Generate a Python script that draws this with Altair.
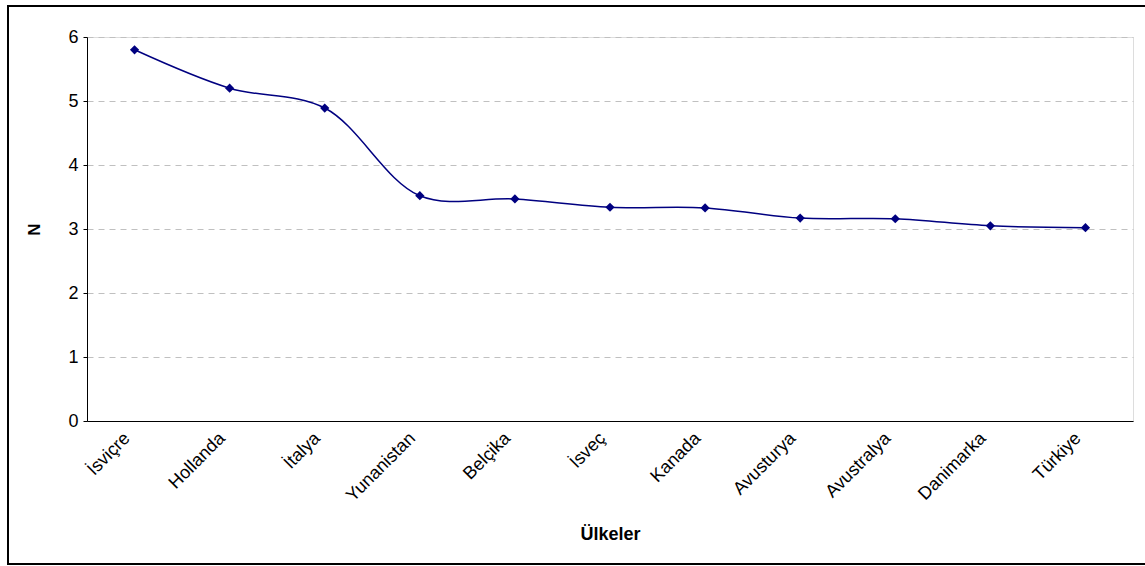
import altair as alt
import pandas as pd

# Countries and their N values
countries = ["İsviçre", "Hollanda", "İtalya", "Yunanistan", "Belçika", "İsveç",
             "Kanada", "Avusturya", "Avustralya", "Danimarka", "Türkiye"]
values = [5.80, 5.20, 4.89, 3.52, 3.47, 3.34, 3.33, 3.17, 3.16, 3.05, 3.02]

df = pd.DataFrame({"Ülke": countries, "N": values})

NAVY = "#000080"
FONT = "Liberation Sans"

x_enc = alt.X(
    "Ülke:N",
    sort=countries,
    scale=alt.Scale(paddingOuter=0.5, paddingInner=0.0),
    axis=alt.Axis(
        title="Ülkeler",
        titleFont=FONT, titleFontSize=18, titleFontWeight="bold",
        titleColor="black", titlePadding=21,
        labelAngle=-45, labelFont=FONT, labelFontSize=18,
        labelColor="black", labelPadding=8, labelOffset=-14,
        domainColor="black", domainWidth=1,
        ticks=False, grid=False,
    ),
)
y_enc = alt.Y(
    "N:Q",
    scale=alt.Scale(domain=[0, 6], nice=False),
    axis=alt.Axis(
        title="N", values=[0, 1, 2, 3, 4, 5, 6],
        titleFont=FONT, titleFontSize=17, titleFontWeight="bold",
        titleColor="black", titlePadding=24,
        labelFont=FONT, labelFontSize=18, labelColor="black",
        labelPadding=5, tickSize=4, tickColor="black",
        domainColor="black", domainWidth=1,
        grid=True, gridColor="#c0c0c0", gridDash=[6, 5], gridWidth=1,
    ),
)

base = alt.Chart(df).encode(x=x_enc, y=y_enc)

line = base.mark_line(color=NAVY, strokeWidth=1.5, interpolate="catmull-rom")
points = base.mark_point(shape="diamond", filled=True, color=NAVY, size=85, opacity=1)

# Outer frame around the whole figure
frame = alt.Chart(df).mark_rect(
    fill=None, stroke="black", strokeWidth=1.5, clip=False
).encode(
    x=alt.value(-79), x2=alt.value(1062),
    y=alt.value(-31), y2=alt.value(527),
)

chart = alt.layer(frame, line, points).properties(
    width=1046, height=384,
    autosize=alt.AutoSizeParams(type="none"),
    padding={"left": 87, "top": 37, "right": 12, "bottom": 145},
).configure_view(
    stroke="#808080", strokeWidth=1.5,
).configure(background="white")

chart.save("out.html", embed_options={"renderer": "svg", "actions": False})
